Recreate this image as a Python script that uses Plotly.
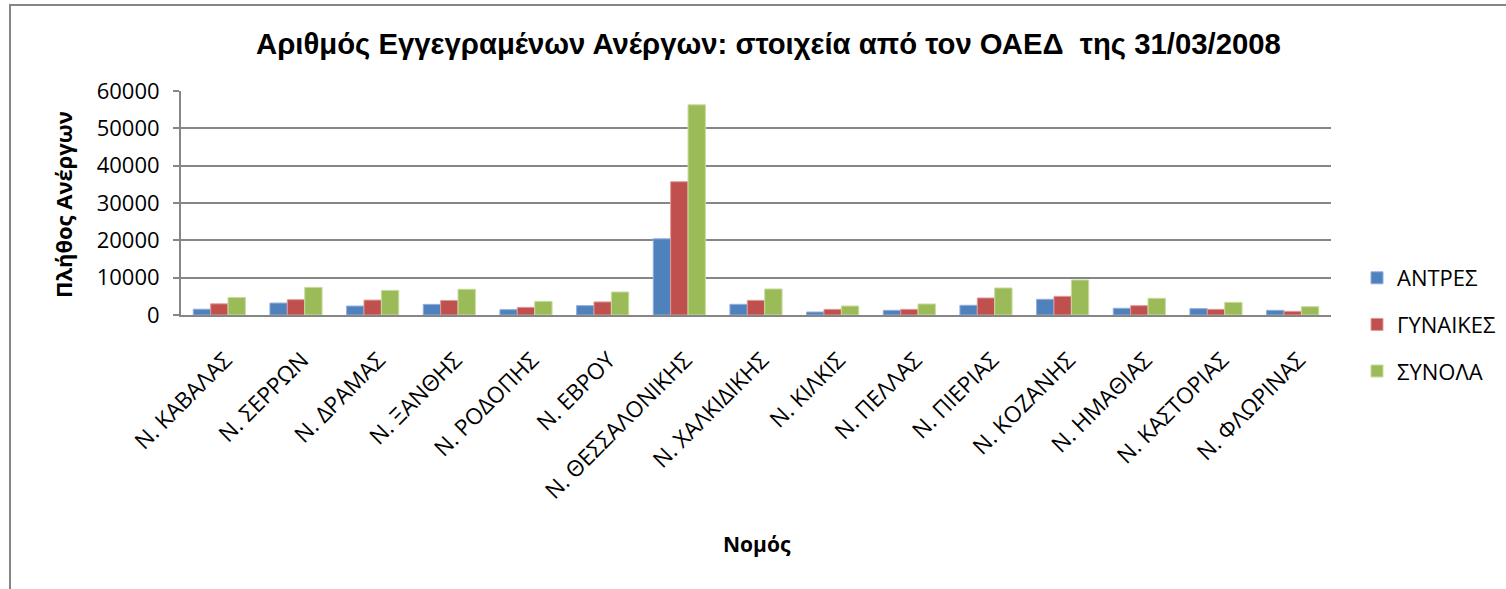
import plotly.graph_objects as go

categories = ["Ν. ΚΑΒΑΛΑΣ", "Ν. ΣΕΡΡΩΝ", "Ν. ΔΡΑΜΑΣ", "Ν. ΞΑΝΘΗΣ", "Ν. ΡΟΔΟΠΗΣ", "Ν. ΕΒΡΟΥ",
              "Ν. ΘΕΣΣΑΛΟΝΙΚΗΣ", "Ν. ΧΑΛΚΙΔΙΚΗΣ", "Ν. ΚΙΛΚΙΣ", "Ν. ΠΕΛΛΑΣ", "Ν. ΠΙΕΡΙΑΣ",
              "Ν. ΚΟΖΑΝΗΣ", "Ν. ΗΜΑΘΙΑΣ", "Ν. ΚΑΣΤΟΡΙΑΣ", "Ν. ΦΛΩΡΙΝΑΣ"]
antres = [1550, 3200, 2400, 2850, 1430, 2500, 20400, 2860, 800, 1250, 2600, 4200, 1800, 1700, 1250]
gynaikes = [3000, 4100, 4000, 3900, 2050, 3500, 35700, 3930, 1520, 1520, 4560, 5000, 2500, 1520, 980]
synola = [4700, 7400, 6600, 6900, 3650, 6170, 56300, 6970, 2410, 2950, 7240, 9380, 4470, 3390, 2230]
series_names = ["ΑΝΤΡΕΣ", "ΓΥΝΑΙΚΕΣ", "ΣΥΝΟΛΑ"]
y_ticks = [0, 10000, 20000, 30000, 40000, 50000, 60000]

colors = ["#4F81BD", "#C0504D", "#9BBB59"]
edge = ["#8eaede", "#e09a98", "#c8dc9e"]

W, H = 1506, 589
PL, PR, PT, PB = 181, 1331, 91, 315   # plot area in page coords
L, T, R, B = PL, PT, W - PR, H - PB
pw, ph = PR - PL, PB - PT

def px(x):
    return (x - PL) / pw

def py(y):
    return (PB - y) / ph

sans = "Open Sans, Noto Sans, sans-serif"
tick_font = dict(family=sans, size=22, color="#000000")

fig = go.Figure()
for i, (name, vals) in enumerate(zip(series_names, [antres, gynaikes, synola])):
    fig.add_trace(go.Bar(
        x=categories, y=vals, name=name,
        marker=dict(color=colors[i], line=dict(color=edge[i], width=1)),
        legendgroup=name,
    ))

fig.update_layout(
    width=W, height=H,
    margin=dict(l=L, r=R, t=T, b=B, autoexpand=False),
    paper_bgcolor="white", plot_bgcolor="white",
    barmode="group", bargap=0.32, bargroupgap=0,
    showlegend=True,
    legend=dict(
        x=px(1357), y=py(257), xanchor="left", yanchor="top",
        font=dict(family=sans, size=22, color="#000000"),
        tracegroupgap=15, bgcolor="rgba(0,0,0,0)",
    ),
    xaxis=dict(
        type="category", tickangle=-45, tickfont=dict(family=sans, size=22.5, color="#000000"),
        showline=True, linecolor="#868686", linewidth=2,
        showgrid=False, ticks="", ticklabelstandoff=21, ticklabelshift=6,
    ),
    yaxis=dict(
        range=[0, 60000], tickvals=y_ticks, ticktext=[str(v) for v in y_ticks],
        tickfont=tick_font, showline=True, linecolor="#868686", linewidth=2,
        ticks="outside", ticklen=6, tickcolor="#868686", tickwidth=1.5,
        showgrid=True, gridcolor="#868686", gridwidth=1.5, zeroline=False,
        ticklabelstandoff=9,
    ),
    shapes=[dict(type="rect", xref="paper", yref="paper",
                 x0=px(10), x1=px(W + 20), y0=py(H + 20), y1=py(5),
                 line=dict(color="#868686", width=2), fillcolor="rgba(0,0,0,0)", layer="below")],
    annotations=[
        dict(text="<b>Αριθμός Εγγεγραμένων Ανέργων: στοιχεία από τον ΟΑΕΔ  της 31/03/2008</b>",
             xref="paper", yref="paper", x=px(768), y=py(44), xanchor="center", yanchor="middle",
             showarrow=False, font=dict(family="Liberation Sans, Arial, sans-serif", size=29.3, color="#000000")),
        dict(text="<b>Πλήθος Ανέργων</b>", textangle=-90,
             xref="paper", yref="paper", x=px(63), y=py(205), xanchor="center", yanchor="middle",
             showarrow=False, font=dict(family=sans, size=22, color="#000000")),
        dict(text="<b>Νομός</b>",
             xref="paper", yref="paper", x=px(757), y=py(544), xanchor="center", yanchor="middle",
             showarrow=False, font=dict(family=sans, size=21, color="#000000")),
    ],
)

fig.write_html("out.html", config={"displayModeBar": False},
               post_script="document.body.style.margin='0';")
